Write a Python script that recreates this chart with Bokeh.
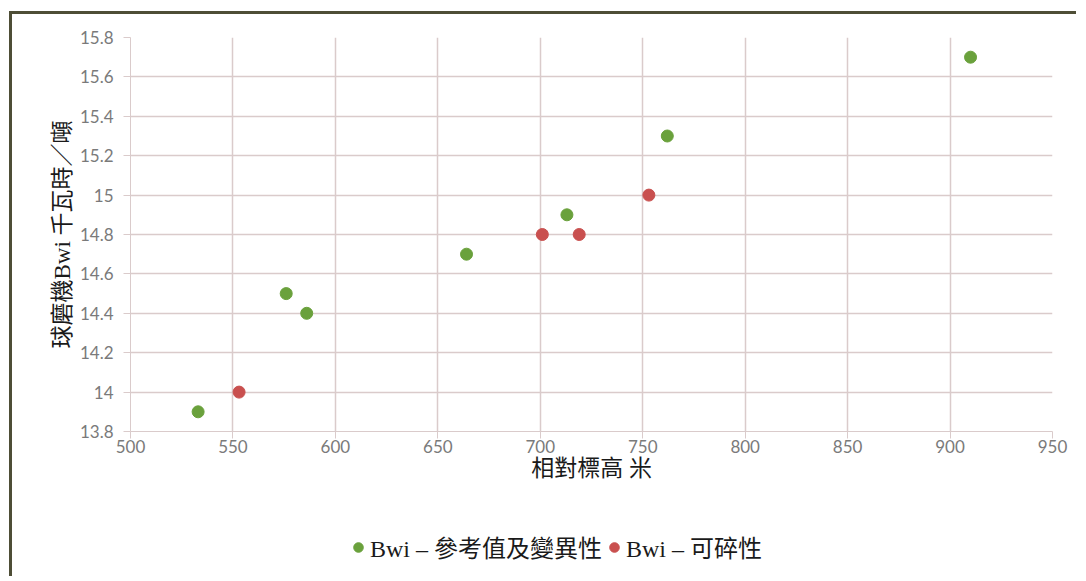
from bokeh.plotting import figure
from bokeh.layouts import column
from bokeh.models import FixedTicker, CustomJSTickFormatter, Legend, LegendItem, Range1d
from bokeh.embed import file_html
from bokeh.resources import INLINE

# Data
ref_x = [533, 576, 586, 664, 713, 762, 910]
ref_y = [13.9, 14.5, 14.4, 14.7, 14.9, 15.3, 15.7]
crush_x = [553, 701, 719, 753]
crush_y = [14.0, 14.8, 14.8, 15.0]
x_ticks = [500, 550, 600, 650, 700, 750, 800, 850, 900, 950]
y_ticks = [13.8, 14.0, 14.2, 14.4, 14.6, 14.8, 15.0, 15.2, 15.4, 15.6, 15.8]
x_label = "相對標高 米"
y_label = "球磨機Bwi 千瓦時／噸"
ref_name = "Bwi – 參考值及變異性"
crush_name = "Bwi – 可碎性"

GREEN = "#6aa13c"
RED = "#c9504f"
GRID = "#dacbcb"
TICK = "#7a7a7a"
SERIF = "Liberation Serif, Noto Sans CJK TC"

p = figure(width=1064, height=490, output_backend="svg", toolbar_location=None,
           x_range=Range1d(500, 950), y_range=Range1d(13.8, 15.8),
           min_border_left=118, min_border_right=24, min_border_top=23,
           min_border_bottom=73)
p.outline_line_color = None
p.background_fill_color = "white"
p.border_fill_color = "white"

for ax in (p.xaxis[0], p.yaxis[0]):
    ax.axis_line_color = GRID
    ax.major_tick_line_color = GRID
    ax.minor_tick_line_color = None
    ax.major_tick_in = 0
    ax.major_tick_out = 7
    ax.major_label_text_color = TICK
    ax.major_label_text_font = "Lato"
    ax.major_label_text_font_size = "17px"
    ax.axis_label_text_font = SERIF
    ax.axis_label_text_font_style = "normal"
    ax.axis_label_text_font_size = "23px"
    ax.axis_label_text_color = "#1a1a1a"

p.xaxis.ticker = FixedTicker(ticks=x_ticks)
p.yaxis.ticker = FixedTicker(ticks=y_ticks)
p.yaxis.formatter = CustomJSTickFormatter(code="return tick.toFixed(1).replace(/\\.0$/, '');")
p.xaxis.major_label_standoff = 1
p.yaxis.major_label_standoff = 10
p.xaxis.axis_label = x_label
p.yaxis.axis_label = y_label
p.xaxis.axis_label_standoff = 0
p.yaxis.axis_label_standoff = 2

p.xgrid.ticker = FixedTicker(ticks=x_ticks)
p.ygrid.ticker = FixedTicker(ticks=y_ticks)
p.xgrid.grid_line_color = GRID
p.ygrid.grid_line_color = GRID
p.xgrid.grid_line_width = 1.5
p.ygrid.grid_line_width = 1.5

p.scatter(ref_x, ref_y, size=12, color=GREEN, line_color=GREEN)
p.scatter(crush_x, crush_y, size=12, color=RED, line_color=RED)

# legend strip below the chart (its renderers fall outside its own ranges)
leg = figure(width=1064, height=72, output_backend="svg", toolbar_location=None,
             x_range=Range1d(0, 1), y_range=Range1d(0, 1),
             x_axis_location=None, y_axis_location=None,
             min_border_left=118, min_border_right=24,
             min_border_top=0, min_border_bottom=0)
leg.outline_line_color = None
leg.grid.visible = False
leg.border_fill_color = "white"
g1 = leg.scatter(ref_x, ref_y, size=10, color=GREEN, line_color=GREEN)
g2 = leg.scatter(crush_x, crush_y, size=10, color=RED, line_color=RED)
legend = Legend(items=[LegendItem(label=ref_name, renderers=[g1]),
                       LegendItem(label=crush_name, renderers=[g2])],
                orientation="horizontal", location=(216, 12),
                glyph_width=24, glyph_height=24, label_standoff=0, spacing=0,
                padding=0, margin=0, border_line_color=None,
                background_fill_alpha=0,
                label_text_font=SERIF, label_text_font_size="24px",
                label_text_color="#1a1a1a")
leg.add_layout(legend, "center")

layout = column(p, leg, spacing=0)
layout.styles = {"border-top": "3px solid #4e4e36", "border-left": "3px solid #4e4e36",
                 "position": "relative", "top": "11px", "left": "9px",
                 "background-color": "white"}

open("out.html", "w").write(file_html(layout, INLINE))
